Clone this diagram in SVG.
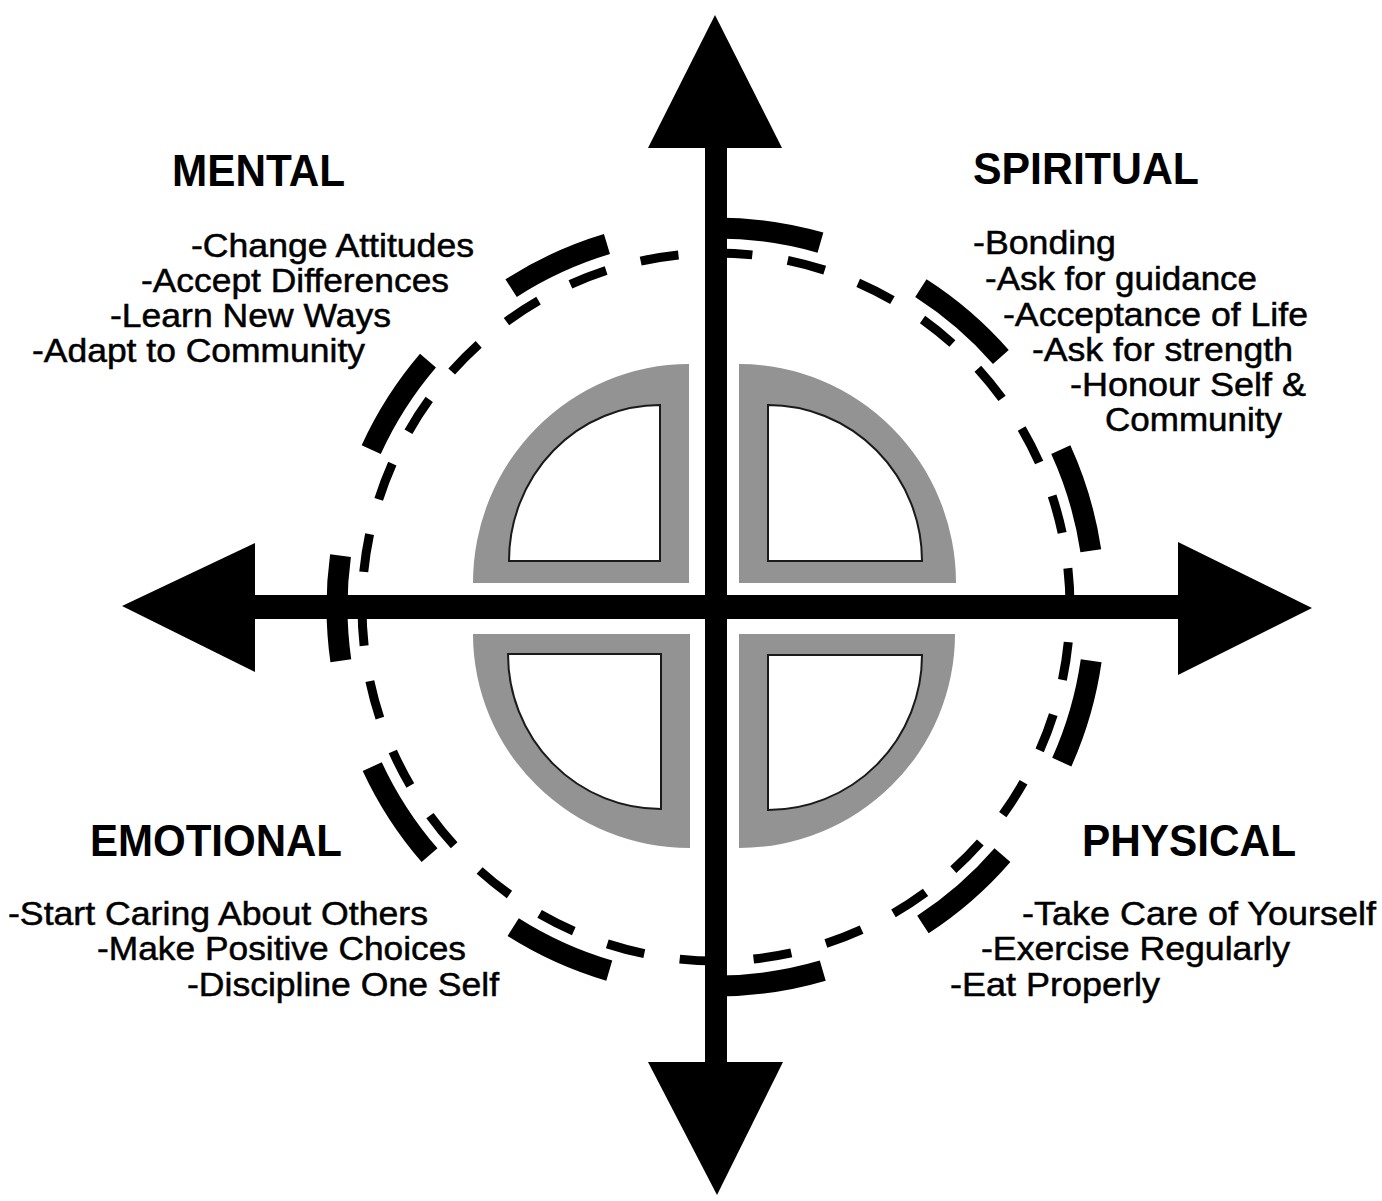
<svg xmlns="http://www.w3.org/2000/svg" width="1382" height="1201" viewBox="0 0 1382 1201">
<style>
.h{font-family:"Liberation Sans",Arial,Helvetica,sans-serif;font-weight:bold;font-size:44px;fill:#000}
.t{font-family:"Liberation Sans",Arial,Helvetica,sans-serif;font-size:33px;fill:#000;stroke:#000;stroke-width:0.5}
.ring{fill:#939393;fill-rule:evenodd}
.hole{fill:none;stroke:#1a1a1a;stroke-width:2}
.arrow{fill:#000}
</style>
<rect width="1382" height="1201" fill="#fff"/>
<g id="wheel">
  <g id="quarter-tl">
    <path class="ring" d="M689 583 L473 583 A216 219 0 0 1 689 364 Z M660 561 L509 561 A151 156 0 0 1 660 405 Z"/>
    <path class="hole" d="M660 561 L509 561 A151 156 0 0 1 660 405 Z"/>
  </g>
  <g id="quarter-tr">
    <path class="ring" d="M739 583 L739 364 A217 219 0 0 1 956 583 Z M768 561 L768 405 A154 156 0 0 1 922 561 Z"/>
    <path class="hole" d="M768 561 L768 405 A154 156 0 0 1 922 561 Z"/>
  </g>
  <g id="quarter-bl">
    <path class="ring" d="M690 634 L690 848 A217 214 0 0 1 473 634 Z M661 654 L661 809 A153 155 0 0 1 508 654 Z"/>
    <path class="hole" d="M661 654 L661 809 A153 155 0 0 1 508 654 Z"/>
  </g>
  <g id="quarter-br">
    <path class="ring" d="M739 634 L955 634 A216 214 0 0 1 739 848 Z M768 655 L922 655 A154 155 0 0 1 768 810 Z"/>
    <path class="hole" d="M768 655 L922 655 A154 155 0 0 1 768 810 Z"/>
  </g>
  <circle id="dashed-circle" cx="716" cy="607" r="354" pathLength="360" fill="none" stroke="#000" stroke-width="9" stroke-dasharray="6.2 5.8" stroke-dashoffset="-5.7"/>
  <circle id="outer-arcs" cx="716" cy="607" r="379" pathLength="360" fill="none" stroke="#000" stroke-width="21" stroke-dasharray="16 16.7273" stroke-dashoffset="-8.18"/>
</g>
<g id="connectors">
  <rect x="705" y="140" width="22" height="930" fill="#000"/>
  <rect x="245" y="595" width="942" height="24" fill="#000"/>
  <polygon class="arrow" points="715,15 648,148 782,148"/>
  <polygon class="arrow" points="648,1062 783,1062 717,1195"/>
  <polygon class="arrow" points="122,606 255,543 255,672"/>
  <polygon class="arrow" points="1178,542 1312,608 1178,675"/>
</g>
<g id="mental">
  <text class="h" x="172" y="186" textLength="173" lengthAdjust="spacingAndGlyphs">MENTAL</text>
  <text class="t" x="191" y="257" textLength="283" lengthAdjust="spacingAndGlyphs">-Change Attitudes</text>
  <text class="t" x="141" y="292" textLength="308" lengthAdjust="spacingAndGlyphs">-Accept Differences</text>
  <text class="t" x="110" y="327" textLength="281" lengthAdjust="spacingAndGlyphs">-Learn New Ways</text>
  <text class="t" x="32" y="362" textLength="333" lengthAdjust="spacingAndGlyphs">-Adapt to Community</text>
</g>
<g id="spiritual">
  <text class="h" x="973" y="184" textLength="226" lengthAdjust="spacingAndGlyphs">SPIRITUAL</text>
  <text class="t" x="973" y="254" textLength="143" lengthAdjust="spacingAndGlyphs">-Bonding</text>
  <text class="t" x="985" y="290" textLength="272" lengthAdjust="spacingAndGlyphs">-Ask for guidance</text>
  <text class="t" x="1003" y="326" textLength="305" lengthAdjust="spacingAndGlyphs">-Acceptance of Life</text>
  <text class="t" x="1032" y="361" textLength="261" lengthAdjust="spacingAndGlyphs">-Ask for strength</text>
  <text class="t" x="1070" y="396" textLength="236" lengthAdjust="spacingAndGlyphs">-Honour Self &amp;</text>
  <text class="t" x="1105" y="431" textLength="177" lengthAdjust="spacingAndGlyphs">Community</text>
</g>
<g id="emotional">
  <text class="h" x="90" y="856" textLength="252" lengthAdjust="spacingAndGlyphs">EMOTIONAL</text>
  <text class="t" x="8" y="925" textLength="420" lengthAdjust="spacingAndGlyphs">-Start Caring About Others</text>
  <text class="t" x="97" y="960" textLength="369" lengthAdjust="spacingAndGlyphs">-Make Positive Choices</text>
  <text class="t" x="187" y="996" textLength="312" lengthAdjust="spacingAndGlyphs">-Discipline One Self</text>
</g>
<g id="physical">
  <text class="h" x="1082" y="856" textLength="214" lengthAdjust="spacingAndGlyphs">PHYSICAL</text>
  <text class="t" x="1022" y="925" textLength="354" lengthAdjust="spacingAndGlyphs">-Take Care of Yourself</text>
  <text class="t" x="981" y="960" textLength="309" lengthAdjust="spacingAndGlyphs">-Exercise Regularly</text>
  <text class="t" x="950" y="996" textLength="210" lengthAdjust="spacingAndGlyphs">-Eat Properly</text>
</g>
</svg>
